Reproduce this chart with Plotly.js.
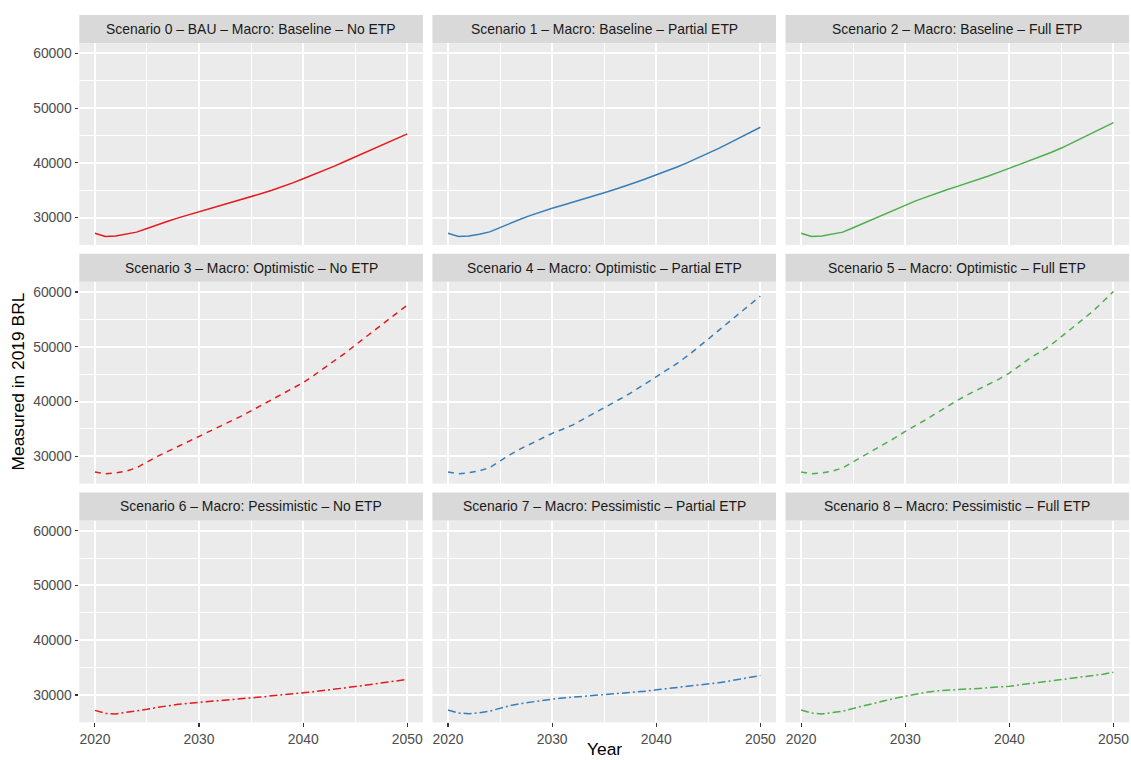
<!DOCTYPE html>
<html>
<head>
<meta charset="utf-8">
<script src="https://cdn.plot.ly/plotly-3.0.1.min.js"></script>
<style>
  html, body { margin: 0; padding: 0; background: #ffffff; }
  #chart { width: 1131px; height: 760px; }
</style>
</head>
<body>
<div id="chart"></div>
<script>
// ---------------- DATA ----------------
const years = [2020, 2021, 2022, 2023, 2024, 2025, 2026, 2027, 2028, 2029, 2030,
               2031, 2032, 2033, 2034, 2035, 2036, 2037, 2038, 2039, 2040,
               2041, 2042, 2043, 2044, 2045, 2046, 2047, 2048, 2049, 2050];

const panelTitles = [
  "Scenario 0 \u2013 BAU \u2013 Macro: Baseline \u2013 No ETP",
  "Scenario 1 \u2013 Macro: Baseline \u2013 Partial ETP",
  "Scenario 2 \u2013 Macro: Baseline \u2013 Full ETP",
  "Scenario 3 \u2013 Macro: Optimistic \u2013 No ETP",
  "Scenario 4 \u2013 Macro: Optimistic \u2013 Partial ETP",
  "Scenario 5 \u2013 Macro: Optimistic \u2013 Full ETP",
  "Scenario 6 \u2013 Macro: Pessimistic \u2013 No ETP",
  "Scenario 7 \u2013 Macro: Pessimistic \u2013 Partial ETP",
  "Scenario 8 \u2013 Macro: Pessimistic \u2013 Full ETP"
];

const scenario0 = [27150, 26550, 26650, 26950, 27350, 28000, 28700, 29350, 29950, 30500, 31050,
                   31600, 32150, 32650, 33200, 33800, 34400, 35000, 35650, 36350, 37100,
                   37850, 38600, 39400, 40250, 41100, 41950, 42800, 43650, 44500, 45300];
const scenario1 = [27150, 26550, 26650, 26950, 27400, 28200, 28950, 29750, 30450, 31100, 31700,
                   32250, 32800, 33350, 33950, 34550, 35150, 35750, 36400, 37100, 37800,
                   38500, 39250, 40050, 40900, 41750, 42650, 43600, 44550, 45500, 46500];
const scenario2 = [27150, 26550, 26650, 26950, 27350, 28150, 28950, 29800, 30650, 31500, 32300,
                   33050, 33750, 34450, 35100, 35700, 36300, 36950, 37600, 38300, 39000,
                   39700, 40400, 41150, 41900, 42700, 43600, 44500, 45450, 46400, 47350];
const scenario3 = [27150, 26800, 26950, 27300, 27900, 29000, 30000, 30900, 31800, 32800, 33750,
                   34600, 35450, 36350, 37300, 38300, 39300, 40400, 41450, 42450, 43450,
                   44750, 46050, 47400, 48800, 50300, 51800, 53250, 54700, 56150, 57600];
const scenario4 = [27150, 26800, 27000, 27350, 27950, 29200, 30350, 31400, 32350, 33300, 34200,
                   34950, 35750, 36800, 37850, 38800, 39800, 40950, 42100, 43300, 44500,
                   45700, 46950, 48350, 49800, 51400, 53000, 54550, 56100, 57650, 59250];
const scenario5 = [27150, 26800, 26950, 27300, 27900, 29000, 30000, 31050, 32150, 33350, 34550,
                   35600, 36700, 37900, 39100, 40200, 41250, 42150, 43100, 44100, 45200,
                   46550, 47950, 49100, 50350, 51850, 53400, 54900, 56450, 58250, 60100];
const scenario6 = [27200, 26650, 26550, 26800, 27100, 27400, 27750, 28050, 28300, 28500, 28650,
                   28800, 28950, 29100, 29250, 29450, 29650, 29850, 30000, 30200, 30400,
                   30600, 30800, 31050, 31300, 31550, 31800, 32050, 32300, 32600, 32850];
const scenario7 = [27250, 26700, 26600, 26750, 27050, 27550, 28100, 28450, 28750, 29000, 29250,
                   29450, 29600, 29800, 29950, 30050, 30200, 30350, 30500, 30700, 30950,
                   31150, 31400, 31600, 31800, 32000, 32250, 32550, 32850, 33200, 33550];
const scenario8 = [27250, 26700, 26550, 26750, 27050, 27550, 28050, 28500, 28950, 29400, 29800,
                   30150, 30500, 30750, 30900, 31000, 31100, 31200, 31300, 31450, 31600,
                   31850, 32100, 32300, 32500, 32750, 33000, 33250, 33500, 33800, 34150];

const xTickVals = [2020, 2030, 2040, 2050];
const xTickText = ["2020", "2030", "2040", "2050"];
const xMinorVals = [2025, 2035, 2045];
const yTickVals = [30000, 40000, 50000, 60000];
const yTickText = ["30000", "40000", "50000", "60000"];
const yMinorVals = [35000, 45000, 55000];

const allSeries = [scenario0, scenario1, scenario2, scenario3, scenario4,
                   scenario5, scenario6, scenario7, scenario8];

// ---------------- STYLE / LAYOUT ----------------
const W = 1131, H = 760;
const colorsByCol = ['#E41A1C', '#377EB8', '#4DAF4A'];
const dashByRow = ['solid', '6px,5px', '8px,3px,2px,3px'];
const FONT = '"Liberation Sans", Arial, Helvetica, sans-serif';
const TICK_SIZE = 13.9;
const TITLE_SIZE = 17.4;

const colLeft = [79.3, 432.4, 785.5];
const panelW = 343.6;
const rowTop = [43.0, 281.7, 520.4];
const panelH = 201.9;
const stripH = 28;

const xRange = [2018.5, 2051.5];
const yRange = [25020, 61880];

const traces = [];
const layout = {
  width: W, height: H,
  margin: {l: 0, r: 0, t: 0, b: 0, pad: 0},
  paper_bgcolor: '#FFFFFF',
  plot_bgcolor: '#EBEBEB',
  showlegend: false,
  font: {family: FONT, size: TICK_SIZE, color: '#4D4D4D'},
  shapes: [],
  annotations: []
};

for (let i = 0; i < 9; i++) {
  const row = Math.floor(i / 3), col = i % 3;
  const sfx = i === 0 ? '' : String(i + 1);
  const xa = 'xaxis' + sfx, ya = 'yaxis' + sfx;

  traces.push({
    type: 'scatter', mode: 'lines',
    x: years, y: allSeries[i],
    xaxis: 'x' + sfx, yaxis: 'y' + sfx,
    line: {color: colorsByCol[col], width: 1.5, dash: dashByRow[row]},
    hoverinfo: 'x+y'
  });

  const x0 = colLeft[col] / W, x1 = (colLeft[col] + panelW) / W;
  const yb = 1 - (rowTop[row] + panelH) / H, yt = 1 - rowTop[row] / H;

  const showX = row === 2, showY = col === 0;
  layout[xa] = {
    domain: [x0, x1], anchor: 'y' + sfx, range: xRange,
    tickmode: 'array', tickvals: xTickVals, ticktext: xTickText,
    showticklabels: showX, ticks: showX ? 'outside' : '',
    ticklen: 3.7, tickwidth: 1.1, tickcolor: '#333333',
    tickfont: {family: FONT, size: TICK_SIZE, color: '#4D4D4D'},
    showgrid: true, gridcolor: '#FFFFFF', gridwidth: 2,
    minor: {tickmode: 'array', tickvals: xMinorVals, showgrid: true,
            gridcolor: '#FFFFFF', gridwidth: 1, ticks: ''},
    zeroline: false, showline: false, fixedrange: true
  };
  layout[ya] = {
    domain: [yb, yt], anchor: 'x' + sfx, range: yRange,
    tickmode: 'array', tickvals: yTickVals, ticktext: yTickText,
    showticklabels: showY, ticks: showY ? 'outside' : '',
    ticklen: 3.7, tickwidth: 1.1, tickcolor: '#333333',
    tickfont: {family: FONT, size: TICK_SIZE, color: '#4D4D4D'},
    showgrid: true, gridcolor: '#FFFFFF', gridwidth: 2,
    minor: {tickmode: 'array', tickvals: yMinorVals, showgrid: true,
            gridcolor: '#FFFFFF', gridwidth: 1, ticks: ''},
    zeroline: false, showline: false, fixedrange: true
  };

  // strip
  const sTop = 1 - (rowTop[row] - stripH) / H;
  layout.shapes.push({
    type: 'rect', xref: 'paper', yref: 'paper',
    x0: x0, x1: x1, y0: yt, y1: sTop,
    fillcolor: '#D9D9D9', line: {width: 0}, layer: 'above'
  });
  layout.annotations.push({
    xref: 'paper', yref: 'paper',
    x: (x0 + x1) / 2, y: (yt + sTop) / 2,
    xanchor: 'center', yanchor: 'middle',
    text: panelTitles[i], showarrow: false,
    font: {family: FONT, size: TICK_SIZE, color: '#1A1A1A'}
  });
}

// axis titles
layout.annotations.push({
  xref: 'paper', yref: 'paper',
  x: 17.5 / W, y: 1 - 382 / H,
  xanchor: 'center', yanchor: 'middle',
  text: 'Measured in 2019 BRL', textangle: -90, showarrow: false,
  font: {family: FONT, size: TITLE_SIZE, color: '#000000'}
});
layout.annotations.push({
  xref: 'paper', yref: 'paper',
  x: 604 / W, y: 1 - 749 / H,
  xanchor: 'center', yanchor: 'middle',
  text: 'Year', showarrow: false,
  font: {family: FONT, size: TITLE_SIZE, color: '#000000'}
});

Plotly.newPlot('chart', traces, layout, {displayModeBar: false, staticPlot: true});
</script>
</body>
</html>
